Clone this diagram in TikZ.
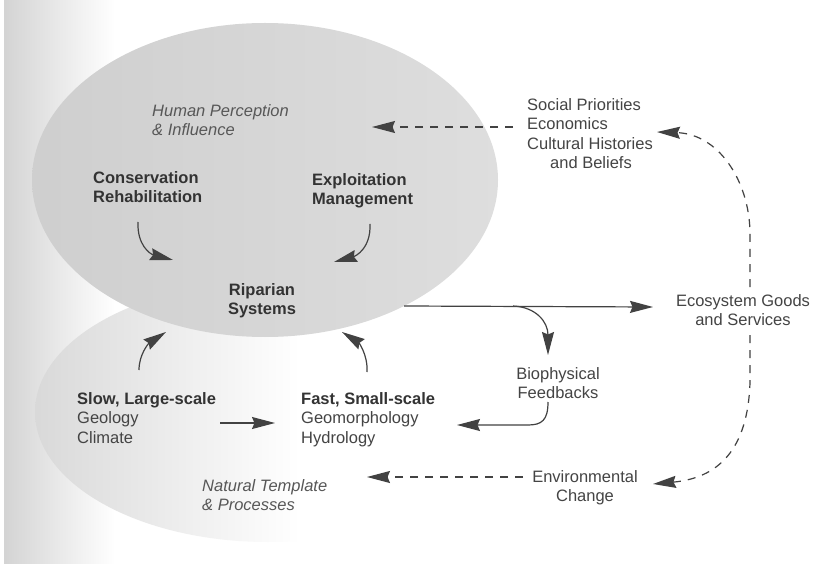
\documentclass[tikz,border=0pt]{standalone}
\usepackage{fontspec}
\setmainfont{Liberation Sans}
\usetikzlibrary{arrows.meta}
\definecolor{ink}{HTML}{424242}
\definecolor{txt}{HTML}{444444}
\newcommand\lblfs{\fontsize{16.5}{19.5}\selectfont}
\begin{document}
\begin{tikzpicture}[x=1pt,y=-1pt,
  lbl/.style={font=\lblfs, text=txt, inner sep=0pt, align=left},
  lblb/.style={lbl, font=\lblfs\bfseries, text=black!80},
  lbli/.style={lbl, font=\lblfs\itshape, text=black!66},
  arr/.style={draw=ink, line width=1.2pt, -{Stealth[length=23pt,width=12pt,inset=2.5pt]}},
  darr/.style={arr, dash pattern=on 8pt off 7pt}]
\useasboundingbox (0,0) rectangle (814,564);
\fill[white] (0,0) rectangle (814,564);
% page shading at the left
\shade[left color=black!17,right color=white] (4,0) rectangle (115,564);
% lower (natural) ellipse
\begin{scope}
  \clip (268,412) ellipse [x radius=233, y radius=130];
  \shade[left color=black!15,right color=white] (35,280) rectangle (300,545);
\end{scope}
% upper (human) ellipse
\shade[left color=black!19,right color=black!13] (265,180) ellipse [x radius=233, y radius=157];

% texts
\node[lbli, anchor=north west] (hum) at (152,104) {Human Perception\\\& Influence};
\node[lblb, anchor=north west] (cons) at (93,171) {Conservation\\Rehabilitation};
\node[lblb, anchor=north west] (expl) at (312,173) {Exploitation\\Management};
\node[lblb, anchor=north, align=center] (rip) at (262,283) {Riparian\\Systems};
\node[lbl, anchor=north west] (soc) at (527,98) {Social Priorities\\Economics\\Cultural Histories\\\hspace*{23pt}and Beliefs};
\node[lbl, anchor=north, align=center] (eco) at (743,294) {Ecosystem Goods\\and Services};
\node[lbl, anchor=north, align=center] (bio) at (558,367) {Biophysical\\Feedbacks};
\node[lbl, anchor=north west] (slow) at (77,392) {{\bfseries\color{black!80}Slow, Large-scale}\\Geology\\Climate};
\node[lbl, anchor=north west] (fast) at (301,392) {{\bfseries\color{black!80}Fast, Small-scale}\\Geomorphology\\Hydrology};
\node[lbl, anchor=north, align=center] (env) at (585,470) {Environmental\\Change};
\node[lbli, anchor=north west] (nat) at (202,479) {Natural Template\\\& Processes};

% connector end points
\coordinate (consS) at (138,222);  \coordinate (ripNW) at (173,260);
\coordinate (explS) at (370,224);  \coordinate (ripNE) at (334,262);
\coordinate (slowN) at (139,370);  \coordinate (ripSW) at (166,332);
\coordinate (fastN) at (367,372);  \coordinate (ripSE) at (342,332);
\coordinate (slowE) at (220,423);  \coordinate (fastW) at (275,423);
\coordinate (ripE) at (404,306);   \coordinate (ecoW) at (653,307);
\coordinate (branch) at (513,306); \coordinate (bioN) at (548,355);
\coordinate (bioS) at (548,402);   \coordinate (fastE) at (457,425);
\coordinate (socW) at (513,127);   \coordinate (humE) at (372,127);
\coordinate (ecoN) at (750,287);   \coordinate (socE) at (657,132);
\coordinate (ecoS) at (750,335);   \coordinate (envE) at (653,484);
\coordinate (envW) at (523,477);   \coordinate (natE) at (367,477);

% solid connectors
\draw[arr] (consS) .. controls (137,245) and (150,254) .. (ripNW);
\draw[arr] (explS) .. controls (371,248) and (356,256) .. (ripNE);
\draw[arr] (slowN) .. controls (139,354) and (149,343) .. (ripSW);
\draw[arr] (fastN) .. controls (368,354) and (358,342) .. (ripSE);
\draw[arr] (slowE) -- (fastW);
\draw[arr] (ripE) -- (ecoW);
\draw[arr] (branch) .. controls (536,307) and (548,322) .. (bioN);
\draw[arr] (bioS) .. controls (548,420) and (542,425) .. (528,425) -- (fastE);

% dashed connectors
\draw[darr] (socW) -- (humE);
\draw[darr] (ecoN) -- (750,232) .. controls (749,180) and (718,134) .. (socE);
\draw[darr] (ecoS) -- (750,382) .. controls (748,450) and (718,478) .. (envE);
\draw[darr] (envW) -- (natE);
\end{tikzpicture}
\end{document}
